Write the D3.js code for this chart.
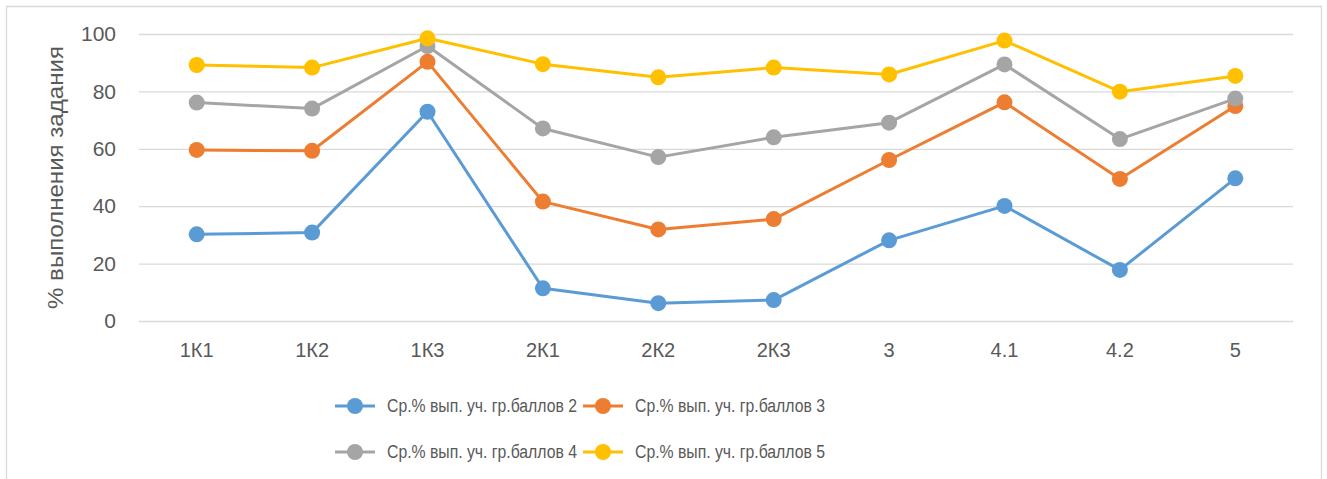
<html lang='ru'>
<head>
<meta charset="utf-8">
<script src="https://d3js.org/d3.v7.min.js"></script>
<style>
  body { margin: 0; background: #fff; font-family: "Liberation Sans", Arial, sans-serif; }
  .grid line { stroke: #d9d9d9; stroke-width: 1.3px; }
  .axis text { fill: #595959; }
  .line { fill: none; stroke-width: 3px; stroke-linejoin: round; }
</style>
</head>
<body>
<script>
var categories = ["1К1", "1К2", "1К3", "2К1", "2К2", "2К3", "3", "4.1", "4.2", "5"];
var seriesNames = ["Ср.% вып. уч. гр.баллов 2", "Ср.% вып. уч. гр.баллов 3",
                   "Ср.% вып. уч. гр.баллов 4", "Ср.% вып. уч. гр.баллов 5"];
var s2 = [30.2, 30.8, 72.9, 11.4, 6.2, 7.3, 28.1, 40.1, 17.8, 49.7];
var s3 = [59.6, 59.3, 90.3, 41.6, 31.9, 35.5, 56.1, 76.2, 49.5, 74.9];
var s4 = [76.1, 74.0, 95.8, 67.1, 57.1, 64.0, 69.1, 89.4, 63.4, 77.5];
var s5 = [89.2, 88.3, 98.5, 89.5, 84.9, 88.3, 85.9, 97.7, 79.9, 85.4];
var yTicks = [0, 20, 40, 60, 80, 100];
var colors = ["#5B9BD5", "#ED7D31", "#A5A5A5", "#FFC000"];
var yTitle = "% выполнения задания";

var series = [s2, s3, s4, s5];
var W = 1327, H = 479;
var margin = {top: 34, right: 34, bottom: 158, left: 139};
var width = W - margin.left - margin.right,
    height = H - margin.top - margin.bottom;

var svg = d3.select("body").append("svg")
    .attr("width", W).attr("height", H);

// chart border (bottom is cut off in the picture)
svg.append("path")
    .attr("d", "M6.5," + H + "V6.5H1321.5V" + H)
    .attr("fill", "none").attr("stroke", "#d9d9d9").attr("stroke-width", 1.3);

var g = svg.append("g")
    .attr("transform", "translate(" + margin.left + "," + margin.top + ")");

var x = d3.scaleBand().domain(categories).range([0, width]);
var y = d3.scaleLinear().domain([0, 100]).range([height, 0]);

g.append("g")
    .attr("class", "grid")
    .call(d3.axisLeft(y).tickValues(yTicks).tickSize(-width).tickFormat(""))
    .call(function(s) { s.select(".domain").remove(); });

g.append("g")
    .attr("class", "axis")
    .call(d3.axisLeft(y).tickValues(yTicks).tickSize(0).tickPadding(23))
    .call(function(s) {
      s.select(".domain").remove();
      s.selectAll("text").style("font-size", "21px");
    });

g.append("g")
    .attr("class", "axis")
    .attr("transform", "translate(0," + height + ")")
    .call(d3.axisBottom(x).tickSize(0).tickPadding(22))
    .call(function(s) {
      s.select(".domain").remove();
      s.selectAll("text").style("font-size", "20px");
    });

svg.append("text")
    .attr("transform", "translate(63," + (margin.top + height / 2) + ") rotate(-90)")
    .attr("text-anchor", "middle")
    .attr("fill", "#595959")
    .style("font-size", "22px")
    .attr("textLength", 263)
    .attr("lengthAdjust", "spacingAndGlyphs")
    .text(yTitle);

var line = d3.line()
    .x(function(d, i) { return x(categories[i]) + x.bandwidth() / 2; })
    .y(function(d) { return y(d); });

series.forEach(function(vals, k) {
  g.append("path")
      .attr("class", "line")
      .attr("stroke", colors[k])
      .attr("d", line(vals));
  g.selectAll(".dot" + k)
      .data(vals)
      .enter().append("circle")
      .attr("cx", function(d, i) { return x(categories[i]) + x.bandwidth() / 2; })
      .attr("cy", function(d) { return y(d); })
      .attr("r", 8)
      .attr("fill", colors[k]);
});

// legend, 2 x 2
var legX = [335, 583], legY = [406, 452];
seriesNames.forEach(function(name, k) {
  var lx = legX[k % 2], ly = legY[Math.floor(k / 2)];
  var lg = svg.append("g").attr("transform", "translate(" + lx + "," + ly + ")");
  lg.append("line").attr("x1", 0).attr("x2", 40)
      .attr("stroke", colors[k]).attr("stroke-width", 3);
  lg.append("circle").attr("cx", 20).attr("r", 8).attr("fill", colors[k]);
  lg.append("text").attr("x", 52).attr("dy", "0.35em")
      .attr("fill", "#595959").style("font-size", "18px")
      .attr("textLength", 190)
      .attr("lengthAdjust", "spacingAndGlyphs")
      .text(name);
});
</script>
</body>
</html>
